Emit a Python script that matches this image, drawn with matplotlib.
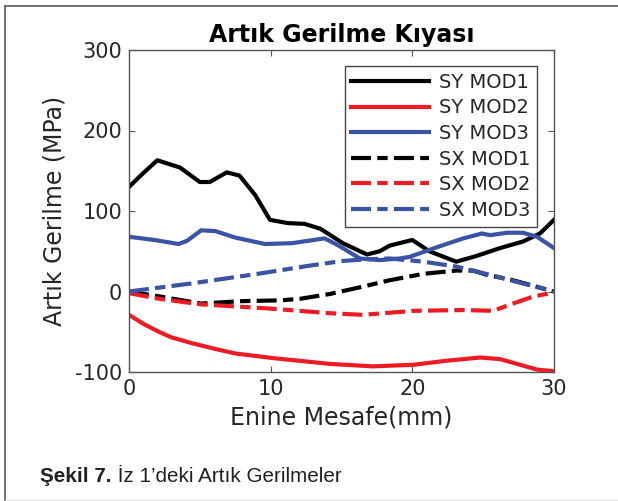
import matplotlib
matplotlib.use("Agg")
import matplotlib.pyplot as plt
from matplotlib.lines import Line2D

# ---- data ----
sy1_x = [0, 1, 2, 3.6, 5.0, 5.7, 6.9, 7.8, 8.9, 9.95, 11.2, 12.4, 13.5, 15.1, 16.8, 17.7,
         18.4, 20.0, 21.2, 23.1, 24.5, 26.2, 27.8, 29.0, 30]
sy1_y = [130, 147, 163, 154, 136, 136, 148, 144, 120, 89, 85, 84, 78, 60, 46, 50,
         57, 64, 50, 37, 44, 54, 62, 72, 89]

sy2_x = [0, 1, 2.1, 3, 4.4, 6, 7.5, 10.3, 12, 14.2, 17.2, 20.1, 22.4, 24.8, 26.2, 27.6, 28.8, 30]
sy2_y = [-29, -40, -50, -57, -64, -71, -77, -83, -86, -90, -93, -91, -86, -82, -84, -91, -97, -99]

sy3_x = [0, 1.8, 3.5, 4.1, 5.1, 6.1, 7.5, 9.6, 11.5, 13.8, 14.7, 16.3, 17.7, 19.1, 19.8,
         21.9, 23.6, 24.9, 25.5, 26.7, 27.8, 28.8, 30]
sy3_y = [68, 64, 59, 63, 76, 75, 67, 59, 60, 66, 58, 41, 39, 41, 43,
         56, 66, 72, 70, 73, 73, 68, 54]

sx1_x = [0, 2.1, 5.1, 7.9, 10.7, 12.1, 14.2, 16.5, 18.4, 20.8, 23.1, 24.3, 25.2, 27.1, 30]
sx1_y = [0, -6, -15, -12, -11, -9, -3, 6, 14, 22, 26, 26, 21, 14, 0]

sx2_x = [0, 2.1, 5.1, 9.8, 12, 14.2, 16.5, 20.1, 23.6, 25.7, 27.1, 28.5, 30]
sx2_y = [-2, -9, -16, -21, -24, -27, -29, -24, -23, -24, -15, -6.5, -1]

sx3_x = [0, 4.4, 9.1, 12.7, 15.1, 16.8, 18.4, 20.8, 23.1, 25.5, 27.8, 30]
sx3_y = [0, 10, 22, 32, 38, 40, 41, 37, 31, 20.5, 10, 0]

labels = ["SY MOD1", "SY MOD2", "SY MOD3", "SX MOD1", "SX MOD2", "SX MOD3"]
x_ticks = [0, 10, 20, 30]
y_ticks = [-100, 0, 100, 200, 300]

title = "Artık Gerilme Kıyası"
xlabel = "Enine Mesafe(mm)"
ylabel = "Artık Gerilme (MPa)"
cap_bold = "Şekil 7."
cap_rest = " İz 1’deki Artık Gerilmeler"

# ---- styling ----
BLACK = "#000000"
RED = "#ed1c24"
BLUE = "#3a53a4"
LW = 3.0
DASH = (0, (4.8, 1.5, 2.5, 1.5))
TXT = "#262626"

plt.rcParams["font.family"] = ["DejaVu Sans"]

W, H = 618, 501
fig = plt.figure(figsize=(W / 100, H / 100), dpi=100)
ax = fig.add_axes([129 / W, 1 - 372 / H, (554 - 129) / W, (372 - 50) / H])

series = [
    (sy1_x, sy1_y, BLACK, "-"),
    (sy2_x, sy2_y, RED, "-"),
    (sy3_x, sy3_y, BLUE, "-"),
    (sx1_x, sx1_y, BLACK, DASH),
    (sx2_x, sx2_y, RED, DASH),
    (sx3_x, sx3_y, BLUE, DASH),
]
for (xs, ys, c, ls), lab in zip(series, labels):
    ax.plot(xs, ys, color=c, linestyle=ls, lw=LW, label=lab, solid_joinstyle="round")

ax.set_xlim(0, 30)
ax.set_ylim(-100, 300)
ax.set_xticks(x_ticks)
ax.set_yticks(y_ticks)
ax.set_yticklabels([str(v) for v in y_ticks])
ax.tick_params(direction="in", length=4, width=0.8, top=True, right=True,
               labelsize=15, labelcolor=TXT, color="#555555", pad=5)
for s in ax.spines.values():
    s.set_color("#555555")
    s.set_linewidth(1.0)

ax.set_title(title, fontsize=17, fontweight="bold", pad=6)
ax.set_xlabel(xlabel, fontsize=17, color=TXT, labelpad=5)
ax.set_ylabel(ylabel, fontsize=17, color=TXT, labelpad=6)

leg = ax.legend(loc="upper right", bbox_to_anchor=(537 / W, 1 - 66 / H),
                bbox_transform=fig.transFigure, borderaxespad=0, fontsize=14,
                handlelength=4.0, handletextpad=0.5, labelspacing=0.34,
                borderpad=0.35, fancybox=False, framealpha=1, edgecolor="#444444")
leg.get_frame().set_linewidth(1.0)
for t in leg.get_texts():
    t.set_color(TXT)

# outer frame lines
fig.add_artist(Line2D([5 / W, 1], [1 - 5.5 / H, 1 - 5.5 / H], transform=fig.transFigure,
                      color="#666666", lw=1.3))
fig.add_artist(Line2D([5 / W, 5 / W], [0, 1 - 5.5 / H], transform=fig.transFigure,
                      color="#666666", lw=1.3))
fig.add_artist(Line2D([5 / W, 1], [1.5 / H, 1.5 / H], transform=fig.transFigure,
                      color="#dddddd", lw=1.0))

# caption
cap_font = ["Liberation Sans", "DejaVu Sans"]
t1 = fig.text(40 / W, 1 - 482 / H, cap_bold, fontsize=14.9, fontweight="bold",
              family=cap_font, color="#231f20", va="baseline")
fig.canvas.draw()
bb = t1.get_window_extent(renderer=fig.canvas.get_renderer())
x2 = fig.transFigure.inverted().transform((bb.x1, bb.y0))[0]
fig.text(x2, 1 - 482 / H, cap_rest, fontsize=14.9, family=cap_font,
         color="#231f20", va="baseline")

fig.savefig("out.png", dpi=100)
